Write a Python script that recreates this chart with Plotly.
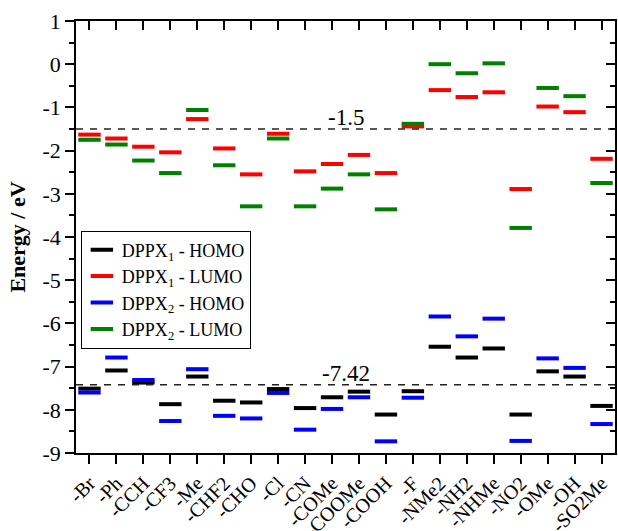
import plotly.graph_objects as go

categories = ["-Br", "-Ph", "-CCH", "-CF3", "-Me", "-CHF2", "-CHO", "-Cl", "-CN", "-COMe",
              "-COOMe", "-COOH", "-F", "-NMe2", "-NH2", "-NHMe", "-NO2", "-OMe", "-OH", "-SO2Me"]

dppx1_homo = [-7.51, -7.09, -7.37, -7.87, -7.23, -7.79, -7.83, -7.52, -7.96, -7.71,
              -7.58, -8.11, -7.57, -6.54, -6.79, -6.58, -8.11, -7.11, -7.23, -7.91]
dppx1_lumo = [-1.63, -1.72, -1.91, -2.04, -1.27, -1.95, -2.55, -1.61, -2.48, -2.31,
              -2.10, -2.52, -1.44, -0.60, -0.76, -0.65, -2.89, -0.98, -1.11, -2.19]
dppx2_homo = [-7.60, -6.79, -7.31, -8.26, -7.06, -8.14, -8.20, -7.61, -8.46, -7.98,
              -7.71, -8.73, -7.72, -5.84, -6.30, -5.89, -8.72, -6.81, -7.03, -8.33]
dppx2_lumo = [-1.75, -1.86, -2.23, -2.52, -1.06, -2.34, -3.29, -1.72, -3.29, -2.88,
              -2.55, -3.36, -1.38, 0.00, -0.21, 0.02, -3.79, -0.55, -0.74, -2.75]

y_tickvals = [1, 0, -1, -2, -3, -4, -5, -6, -7, -8, -9]
y_ticktext = ["1", "0", "-1", "-2", "-3", "-4", "-5", "-6", "-7", "-8", "-9"]

ref_levels = [-1.5, -7.42]
ref_labels = ["-1.5", "-7.42"]

series_names = ["DPPX<sub>1</sub> - HOMO", "DPPX<sub>1</sub> - LUMO",
                "DPPX<sub>2</sub> - HOMO", "DPPX<sub>2</sub> - LUMO"]
series_vals = [dppx1_homo, dppx1_lumo, dppx2_homo, dppx2_lumo]
colors = ["#000000", "#ff0000", "#0000ff", "#008000"]

FONT = "Liberation Serif"

fig = go.Figure()

# reference dashed lines
for lvl in ref_levels:
    fig.add_trace(go.Scatter(x=[-0.5, 19.5], y=[lvl, lvl], mode="lines",
                             line=dict(color="#222222", width=1.6, dash="7px,7px"),
                             showlegend=False, hoverinfo="skip", xaxis="x2", yaxis="y"))

for name, vals, col in zip(series_names, series_vals, colors):
    fig.add_trace(go.Scatter(x=categories, y=vals, mode="markers", name=name,
                             marker=dict(symbol="line-ew", size=16, color=col,
                                         line=dict(color=col, width=4))))

# invisible trace to hold the mirrored (inward-tick) axes
fig.add_trace(go.Scatter(x=[-0.5, 19.5], y=[-9, 1], mode="markers", marker=dict(opacity=0),
                         showlegend=False, hoverinfo="skip", xaxis="x2", yaxis="y2"))

for lvl, lab in zip(ref_levels, ref_labels):
    fig.add_annotation(x=9.5, y=lvl, xref="x2", yref="y", text=lab, showarrow=False,
                       yanchor="bottom", yshift=-3, font=dict(family=FONT, size=23, color="black"))

fig.update_layout(
    width=618, height=531,
    margin=dict(l=76, r=3, t=21, b=78, autoexpand=False),
    paper_bgcolor="white", plot_bgcolor="white",
    font=dict(family=FONT, size=22, color="black"),
    xaxis=dict(type="category", categoryarray=categories, range=[-0.5, 19.5],
               showline=True, linecolor="black", linewidth=1.5, mirror=True,
               ticks="outside", ticklen=9, tickwidth=1.5, tickcolor="black",
               tickangle=-45, tickfont=dict(family=FONT, size=20), automargin=False,
               showgrid=False, zeroline=False),
    xaxis2=dict(overlaying="x", side="top", range=[-0.5, 19.5], anchor="y",
                tickmode="linear", tick0=0, dtick=1, automargin=False,
                ticks="inside", ticklen=9, tickwidth=1.5, tickcolor="black",
                showticklabels=False, showline=False, showgrid=False, zeroline=False),
    yaxis=dict(range=[-9, 1], tickmode="array", tickvals=y_tickvals, ticktext=y_ticktext,
               showline=True, linecolor="black", linewidth=1.5, automargin=False,
               mirror=True, ticks="outside", ticklen=9, tickwidth=1.5, tickcolor="black",
               minor=dict(dtick=0.5, ticks="outside", ticklen=5, tickwidth=1.5, tickcolor="black"),
               tickfont=dict(family=FONT, size=22),
               title=dict(text="<b>Energy / eV</b>", font=dict(family=FONT, size=22), standoff=11),
               showgrid=False, zeroline=False),
    yaxis2=dict(overlaying="y", side="right", range=[-9, 1], dtick=1, anchor="x2",
                ticks="inside", ticklen=9, tickwidth=1.5, tickcolor="black", automargin=False,
                minor=dict(dtick=0.5, ticks="inside", ticklen=5, tickwidth=1.5, tickcolor="black"),
                showticklabels=False, showline=False, showgrid=False, zeroline=False),
    legend=dict(x=0.009, y=0.515, xanchor="left", yanchor="top",
                bordercolor="black", borderwidth=1, bgcolor="white",
                font=dict(family=FONT, size=18), tracegroupgap=0, itemwidth=30),
)

fig.write_html("out.html")
